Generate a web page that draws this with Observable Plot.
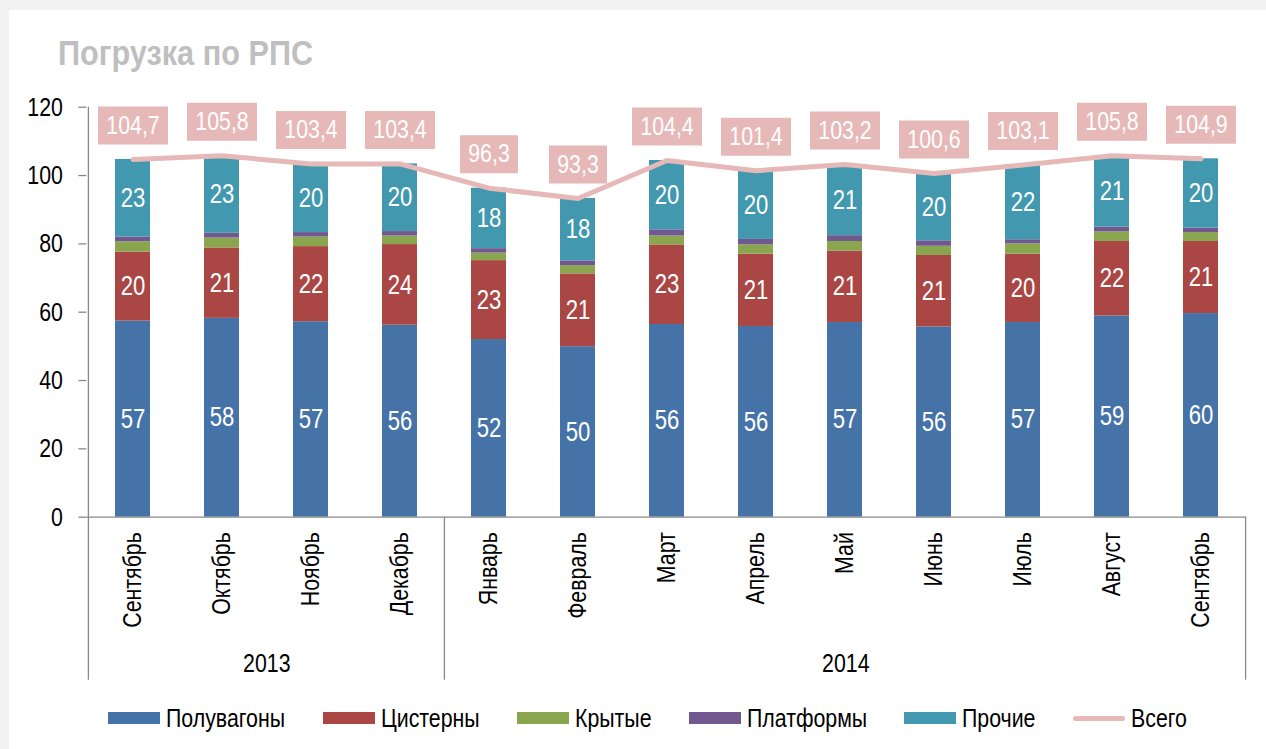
<!DOCTYPE html>
<html>
<head>
<meta charset="utf-8">
<script src="https://cdn.jsdelivr.net/npm/d3@7"></script>
<script src="https://cdn.jsdelivr.net/npm/@observablehq/plot@0.6"></script>
<style>
  html, body { margin: 0; padding: 0; }
  body { width: 1266px; height: 749px; background: #f2f2f2; position: relative; overflow: hidden;
         font-family: "Liberation Sans", Arial, sans-serif; }
  #panel { position: absolute; left: 9px; top: 10px; right: 0; bottom: 0; background: #ffffff; }
  #title { position: absolute; left: 58px; top: 35px; font-size: 35px; line-height: 35px; font-weight: bold; color: #bfbfbf; white-space: nowrap; }
  #chart { position: absolute; left: 0; top: 80px; }
  #legend { position: absolute; left: 108px; top: 700px; height: 36px; display: flex; align-items: center; gap: 37.5px; font-size: 26px; color: #000; white-space: nowrap; }
  .item { display: flex; align-items: center; }
  .sw { width: 52px; height: 12px; margin-right: 6px; }
  .ln { width: 52px; height: 5px; border-radius: 3px; margin-right: 6px; }
  .nw { display: inline-block; }
  .nw > span { display: inline-block; transform-origin: 0 50%; }
</style>
</head>
<body>
<div id="panel"></div>
<div id="title"><span class="nw"><span>Погрузка по РПС</span></span></div>
<div id="chart"></div>
<div id="legend"></div>
<script>
const months = ["Сентябрь","Октябрь","Ноябрь","Декабрь","Январь","Февраль","Март","Апрель","Май","Июнь","Июль","Август","Сентябрь"];
const years = ["2013", "2014"];
const yearFirst = [0, 4];
const yearLast = [3, 12];
const types = ["Полувагоны","Цистерны","Крытые","Платформы","Прочие"];
const colors = ["#4572a7","#aa4643","#89a54e","#71588f","#4198af"];
const totalName = "Всего";
const totalColor = "#e6b9b8";

const poluvagony = [57.4, 58.2, 57.2, 56.2, 52.0, 49.9, 56.4, 55.8, 57.0, 55.7, 57.0, 58.9, 59.6];
const cisterny   = [20.2, 20.6, 22.0, 23.6, 23.1, 21.3, 23.3, 21.2, 20.9, 20.9, 20.0, 21.8, 21.1];
const krytye     = [3.0, 2.9, 2.8, 2.5, 2.2, 2.4, 2.6, 2.7, 2.8, 2.7, 3.0, 2.8, 2.6];
const platformy  = [1.4, 1.4, 1.3, 1.3, 1.3, 1.4, 1.8, 1.6, 1.7, 1.6, 1.2, 1.4, 1.3];
const prochie    = [22.7, 22.7, 20.1, 19.8, 17.7, 18.3, 20.3, 20.1, 20.8, 19.7, 21.9, 20.9, 20.3];
const totals     = [104.7, 105.8, 103.4, 103.4, 96.3, 93.3, 104.4, 101.4, 103.2, 100.6, 103.1, 105.8, 104.9];
const yTicks = [0, 20, 40, 60, 80, 100, 120];
const labelled = ["Полувагоны", "Цистерны", "Прочие"];

const series = [poluvagony, cisterny, krytye, platformy, prochie];
const rows = [];
months.forEach((m, i) => types.forEach((t, k) => rows.push({i, type: t, value: series[k][i]})));
const totalRows = months.map((m, i) => ({i, total: totals[i]}));

const FONT = '"Liberation Sans", Arial, sans-serif';
const NARROW = 0.82;
const W = 1266, H = 620, mL = 86.4, mR = 20, mT = 26.7, mB = 183.3;
const step = (W - mL - mR) / months.length;
const axisColor = "#898989";
const ext = -163;
const box = w => ({draw(ctx) { ctx.rect(-w / 2, -19, w, 38); }});
const fmt = v => v.toFixed(1).replace(".", ",");

const plot = Plot.plot({
  width: W, height: H,
  marginLeft: mL, marginRight: mR, marginTop: mT, marginBottom: mB,
  style: {background: "none", fontFamily: FONT, overflow: "visible", color: "#000"},
  x: {type: "band", domain: d3.range(months.length), paddingInner: 0.61, paddingOuter: 0.305, axis: null},
  y: {domain: [0, 120], axis: null},
  color: {domain: types, range: colors},
  marks: [
    Plot.barY(rows, {x: "i", y: "value", fill: "type", order: types}),
    Plot.text(rows, Plot.stackY({x: "i", y: "value", z: "type", order: types,
      text: d => labelled.includes(d.type) ? String(Math.round(d.value)) : "",
      fill: "white", fontSize: 27})),
    Plot.ruleY([0], {stroke: axisColor, strokeWidth: 1.3}),
    Plot.ruleX([0], {x: d => d, y1: 120, y2: 0, dx: -step / 2, insetBottom: ext, stroke: axisColor, strokeWidth: 1.3}),
    Plot.ruleX(yearFirst.slice(1), {x: d => d, y1: 0, y2: 0, dx: -step / 2, insetBottom: ext, stroke: axisColor, strokeWidth: 1.3}),
    Plot.ruleX([months.length - 1], {x: d => d, y1: 0, y2: 0, dx: step / 2, insetBottom: ext, stroke: axisColor, strokeWidth: 1.3}),
    Plot.axisY({ticks: yTicks, tickSize: 8, tickPadding: 16, fontSize: 26, stroke: axisColor, strokeWidth: 1.3, label: null, tickFormat: d => String(d)}),
    Plot.axisX({tickRotate: -90, tickSize: 0, tickPadding: 15, fontSize: 26, label: null, tickFormat: i => months[i]}),
    Plot.line(totalRows, {x: "i", y: "total", stroke: totalColor, strokeWidth: 5, strokeLinecap: "round", strokeLinejoin: "round"}),
    Plot.dot(totalRows.filter(d => d.total >= 100), {x: "i", y: "total", symbol: box(70), fill: totalColor, dy: -34, r: 5}),
    Plot.dot(totalRows.filter(d => d.total < 100), {x: "i", y: "total", symbol: box(58), fill: totalColor, dy: -34, r: 5}),
    Plot.text(totalRows, {x: "i", y: "total", text: d => fmt(d.total), fill: "white", fontSize: 26, dy: -34}),
    Plot.text([0], {x: () => yearFirst[0], y: () => 0, text: () => years[0], dx: (yearLast[0] - yearFirst[0]) / 2 * step, dy: 146, fontSize: 26, fill: "#000"}),
    Plot.text([0], {x: () => yearFirst[1], y: () => 0, text: () => years[1], dx: (yearLast[1] - yearFirst[1]) / 2 * step, dy: 146, fontSize: 26, fill: "#000"})
  ]
});

// narrow the glyphs (Arial Narrow is not installed): horizontal scale in each text's own frame
plot.querySelectorAll("text").forEach(t => {
  const tr = t.getAttribute("transform") || "";
  t.setAttribute("transform", (tr + ` scale(${NARROW},1)`).trim());
});
document.getElementById("chart").appendChild(plot);

function narrowSpan(el, k) {
  const inner = el.firstElementChild;
  const w = inner.getBoundingClientRect().width;
  inner.style.transform = `scaleX(${k})`;
  el.style.width = (w * k) + "px";
}

const legend = document.getElementById("legend");
const legendTexts = [];
function addItem(label, swClass, color) {
  const it = document.createElement("div"); it.className = "item";
  const sw = document.createElement("span"); sw.className = swClass; sw.style.background = color;
  const tx = document.createElement("span"); tx.className = "nw";
  const inner = document.createElement("span"); inner.textContent = label;
  tx.appendChild(inner);
  it.appendChild(sw); it.appendChild(tx); legend.appendChild(it);
  legendTexts.push(tx);
}
types.forEach((t, k) => addItem(t, "sw", colors[k]));
addItem(totalName, "ln", totalColor);
legendTexts.forEach(el => narrowSpan(el, NARROW));
narrowSpan(document.querySelector("#title .nw"), 0.876);
</script>
</body>
</html>
